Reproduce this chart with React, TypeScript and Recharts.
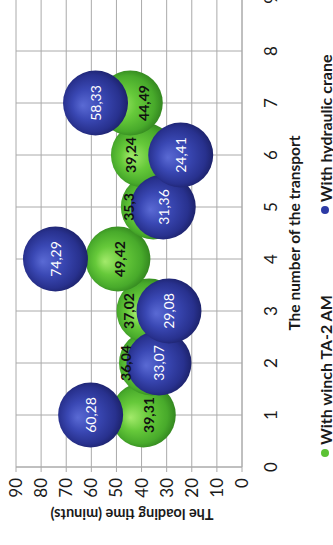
import React from 'react'
import { ScatterChart, Scatter, XAxis, YAxis, CartesianGrid, Label } from 'recharts'

const transports = [1, 2, 3, 4, 5, 6, 7]
const winchTimes = [39.31, 36.04, 37.02, 49.42, 35.3, 39.24, 44.49]
const craneTimes = [60.28, 33.07, 29.08, 74.29, 31.36, 24.41, 58.33]
const transportTicks = [0, 1, 2, 3, 4, 5, 6, 7, 8, 9]
const timeTicks = [0, 10, 20, 30, 40, 50, 60, 70, 80, 90]
const seriesNames = ['With winch TA-2 AM', 'With hydraulic crane']

// the chart is laid out upright and then turned 90deg counterclockwise, like the source scan
const CHART_W = 560
const CHART_H = 345
const MARGIN = { top: 16, right: 14, bottom: 0, left: 0 }
const Y_AXIS_W = 78
const X_AXIS_H = 103
const PLOT_H = CHART_H - MARGIN.top - MARGIN.bottom - X_AXIS_H
const BUBBLE_R = 32.5
const FONT = 'Lato, "Liberation Sans", Arial, sans-serif'
const GRID = '#aaaaaa'
const TEXT = '#1a1a1a'

const fmt = (v: number) => String(v).replace('.', ',')

const winchData = transports.map((t, i) => ({ t, time: winchTimes[i] }))
const craneData = transports.map((t, i) => ({ t, time: craneTimes[i], label: craneTimes[i] }))

// winch labels slide away from the crane bubble that covers them (as in the original)
const unitsPerPx = 90 / PLOT_H
const bubbleSpan = 2 * BUBBLE_R * unitsPerPx
const winchLabels = transports.map((t, i) => {
  const gap = winchTimes[i] - craneTimes[i]
  const push = Math.max(0, bubbleSpan - Math.abs(gap)) * 0.45 * Math.sign(gap)
  return { t, time: winchTimes[i] + push, label: winchTimes[i] }
})

const bubble = (fill: string) => (props: any) => (
  <circle cx={props.cx} cy={props.cy} r={BUBBLE_R} fill={fill} />
)

const valueText = (color: string, weight: number) => (props: any) => (
  <text
    x={props.cx}
    y={props.cy}
    textAnchor="middle"
    dominantBaseline="central"
    fill={color}
    fontSize={14}
    fontWeight={weight}
    fontFamily={FONT}
  >
    {fmt(props.payload.label)}
  </text>
)

function LegendItem({ color, name, style }: { color: string; name: string; style?: React.CSSProperties }) {
  return (
    <span style={{ display: 'flex', alignItems: 'center', ...style }}>
      <span style={{ width: 8, height: 8, borderRadius: '50%', background: color, marginRight: 4 }} />
      <span>{name}</span>
    </span>
  )
}

export default function App() {
  return (
    <div style={{ position: 'fixed', left: 0, top: 0, width: 333, height: 545, overflow: 'hidden', background: '#fff' }}>
      <div
        style={{
          position: 'absolute',
          left: 0,
          top: 0,
          width: CHART_W,
          height: CHART_H,
          transformOrigin: '0 0',
          transform: 'translate(0px, 545px) rotate(-90deg)'
        }}
      >
        <ScatterChart width={CHART_W} height={CHART_H} margin={MARGIN}>
          <defs>
            <radialGradient id="greenBall" cx="50%" cy="48%" r="55%" fx="46%" fy="30%">
              <stop offset="0%" stopColor="#a3ea6b" />
              <stop offset="40%" stopColor="#66c93a" />
              <stop offset="78%" stopColor="#48aa2b" />
              <stop offset="100%" stopColor="#2f7f1d" />
            </radialGradient>
            <radialGradient id="blueBall" cx="50%" cy="48%" r="55%" fx="46%" fy="30%">
              <stop offset="0%" stopColor="#5a6ad4" />
              <stop offset="42%" stopColor="#3a48b4" />
              <stop offset="80%" stopColor="#28318e" />
              <stop offset="100%" stopColor="#1a1f63" />
            </radialGradient>
          </defs>
          <CartesianGrid stroke={GRID} horizontalValues={timeTicks} verticalValues={transportTicks} />
          <XAxis
            type="number"
            dataKey="t"
            domain={[0, 9]}
            ticks={transportTicks}
            interval={0}
            height={X_AXIS_H}
            tickSize={0}
            tickMargin={23}
            axisLine={{ stroke: GRID }}
            tick={{ fontSize: 17, fill: TEXT, fontFamily: FONT }}
          >
            <Label
              value="The number of the transport"
              position="insideBottom"
              offset={45}
              fontSize={15.5}
              fontWeight={700}
              fill={TEXT}
              fontFamily={FONT}
            />
          </XAxis>
          <YAxis
            type="number"
            dataKey="time"
            domain={[0, 90]}
            ticks={timeTicks}
            interval={0}
            width={Y_AXIS_W}
            tickSize={5}
            tickMargin={6}
            tickLine={{ stroke: GRID }}
            axisLine={{ stroke: GRID }}
            tick={{ fontSize: 17, fill: TEXT, fontFamily: FONT }}
          >
            <Label
              value="The loading time (minuts)"
              angle={-90}
              position="center"
              dx={-8}
              dy={3}
              fontSize={14.5}
              fontWeight={700}
              fill={TEXT}
              fontFamily={FONT}
            />
          </YAxis>
          <Scatter name={seriesNames[0]} data={winchData} shape={bubble('url(#greenBall)')} isAnimationActive={false} />
          <Scatter name={seriesNames[1]} data={craneData} shape={bubble('url(#blueBall)')} isAnimationActive={false} />
          <Scatter data={winchLabels} shape={valueText('#111', 700)} isAnimationActive={false} legendType="none" />
          <Scatter data={craneData} shape={valueText('#ffffff', 400)} isAnimationActive={false} legendType="none" />
        </ScatterChart>
        <div
          style={{
            position: 'absolute',
            left: 88,
            top: 315,
            height: 20,
            display: 'flex',
            alignItems: 'center',
            whiteSpace: 'nowrap',
            fontFamily: FONT,
            fontWeight: 700,
            fontSize: 16,
            color: TEXT
          }}
        >
          <LegendItem color="#5cc234" name={seriesNames[0]} />
          <LegendItem color="#2c3aa5" name={seriesNames[1]} style={{ marginLeft: 81 }} />
        </div>
      </div>
    </div>
  )
}
